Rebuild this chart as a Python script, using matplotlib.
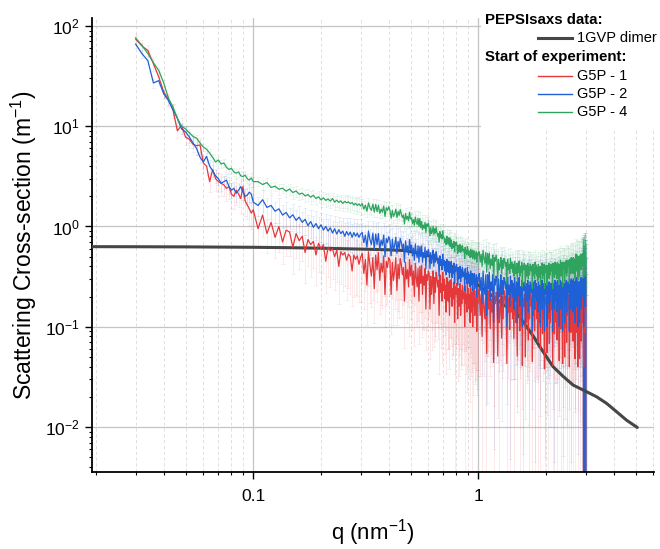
import numpy as np
import matplotlib
matplotlib.use("Agg")
import matplotlib.pyplot as plt
from matplotlib.patches import Rectangle
from matplotlib.ticker import FixedLocator, FixedFormatter, LogLocator, NullFormatter, LogFormatterSciNotation

plt.rcParams.update({
    "font.family": ["Liberation Sans", "DejaVu Sans"],
    "mathtext.fontset": "custom",
    "mathtext.rm": "Liberation Sans",
    "mathtext.it": "Liberation Sans:italic",
    "mathtext.bf": "Liberation Sans:bold",
    "mathtext.default": "regular",
    "axes.unicode_minus": False,
})

# ---------------- data ----------------
# q grid in 1e-3 nm^-1
q_milli = [
    30, 32, 34, 36, 38, 40, 42, 44, 46, 48, 50, 52, 54, 56, 58, 60, 62, 64, 66, 68,
    70, 72, 74, 76, 78, 80, 82, 84, 86, 88, 90, 92, 94, 96, 98, 100,
    105, 110, 115, 120, 125, 130, 135, 140, 145, 150, 155, 160, 165, 170, 175, 180,
    185, 190, 195, 200, 205, 210, 215, 220, 225, 230, 235, 240, 245, 250, 255, 260,
    265, 270, 275, 280, 285, 290, 295, 300,
    305, 310, 315, 320, 325, 330, 335, 340, 345, 350,
    355, 360, 365, 370, 375, 380, 385, 390, 395, 400,
    405, 410, 415, 420, 425, 430, 435, 440, 445, 450,
    455, 460, 465, 470, 475, 480, 485, 490, 495, 500,
    505, 510, 515, 520, 525, 530, 535, 540, 545, 550,
    555, 560, 565, 570, 575, 580, 585, 590, 595, 600,
    605, 610, 615, 620, 625, 630, 635, 640, 645, 650,
    655, 660, 665, 670, 675, 680, 685, 690, 695, 700,
    705, 710, 715, 720, 725, 730, 735, 740, 745, 750,
    755, 760, 765, 770, 775, 780, 785, 790, 795, 800,
    805, 810, 815, 820, 825, 830, 835, 840, 845, 850,
    855, 860, 865, 870, 875, 880, 885, 890, 895, 900,
    905, 910, 915, 920, 925, 930, 935, 940, 945, 950,
    955, 960, 965, 970, 975, 980, 985, 990, 995, 1000,
    1010, 1020, 1030, 1040, 1050, 1060, 1070, 1080, 1090, 1100,
    1110, 1120, 1130, 1140, 1150, 1160, 1170, 1180, 1190, 1200,
    1210, 1220, 1230, 1240, 1250, 1260, 1270, 1280, 1290, 1300,
    1310, 1320, 1330, 1340, 1350, 1360, 1370, 1380, 1390, 1400,
    1410, 1420, 1430, 1440, 1450, 1460, 1470, 1480, 1490, 1500,
    1510, 1520, 1530, 1540, 1550, 1560, 1570, 1580, 1590, 1600,
    1610, 1620, 1630, 1640, 1650, 1660, 1670, 1680, 1690, 1700,
    1710, 1720, 1730, 1740, 1750, 1760, 1770, 1780, 1790, 1800,
    1810, 1820, 1830, 1840, 1850, 1860, 1870, 1880, 1890, 1900,
    1910, 1920, 1930, 1940, 1950, 1960, 1970, 1980, 1990, 2000,
    2010, 2020, 2030, 2040, 2050, 2060, 2070, 2080, 2090, 2100,
    2110, 2120, 2130, 2140, 2150, 2160, 2170, 2180, 2190, 2200,
    2210, 2220, 2230, 2240, 2250, 2260, 2270, 2280, 2290, 2300,
    2310, 2320, 2330, 2340, 2350, 2360, 2370, 2380, 2390, 2400,
    2410, 2420, 2430, 2440, 2450, 2460, 2470, 2480, 2490, 2500,
    2510, 2520, 2530, 2540, 2550, 2560, 2570, 2580, 2590, 2600,
    2610, 2620, 2630, 2640, 2650, 2660, 2670, 2680, 2690, 2700,
    2710, 2720, 2730, 2740, 2750, 2760, 2770, 2780, 2790, 2800,
    2810, 2820, 2830, 2840, 2850, 2860, 2870, 2880, 2890, 2900,
    2910, 2920, 2930, 2940, 2950, 2960, 2970, 2980, 2990, 3000,
]

g5p1 = [
    74, 63, 57, 42, 31, 22, 18.5, 14.5, 9.0, 10.2, 7.8, 7.4, 6.6, 6.4, 6.5, 4.3, 4.0, 2.8, 3.7, 3.0,
    2.8, 2.7, 2.6, 2.4, 2.5, 2.1, 2.0, 2.3, 2.1, 1.9, 2.5, 1.8, 1.65, 1.5, 1.36, 1.47,
    0.95, 1.30, 0.85, 1.10, 0.78, 1.00, 0.70, 0.92, 0.88, 0.62,
    0.85, 0.72, 0.80, 0.55, 0.74, 0.66, 0.71, 0.52, 0.68, 0.60,
    0.66, 0.45, 0.62, 0.57, 0.60, 0.50, 0.58, 0.40, 0.56, 0.52,
    0.55, 0.46, 0.53, 0.50, 0.36, 0.52, 0.47, 0.51, 0.42, 0.49,
    0.54, 0.34, 0.47, 0.26, 0.56, 0.41, 0.32, 0.49, 0.24, 0.52,
    0.37, 0.55, 0.29, 0.43, 0.35, 0.51, 0.21, 0.45, 0.39, 0.49,
    0.46, 0.21, 0.44, 0.29, 0.36, 0.49, 0.23, 0.42, 0.30, 0.48,
    0.42, 0.33, 0.39, 0.18, 0.44, 0.30, 0.37, 0.25, 0.47, 0.32,
    0.41, 0.26, 0.36, 0.20, 0.43, 0.31, 0.25, 0.38, 0.18, 0.40,
    0.27, 0.41, 0.21, 0.32, 0.26, 0.38, 0.15, 0.33, 0.29, 0.36,
    0.34, 0.15, 0.32, 0.21, 0.27, 0.36, 0.17, 0.31, 0.22, 0.35,
    0.31, 0.25, 0.29, 0.13, 0.33, 0.22, 0.27, 0.18, 0.35, 0.23,
    0.30, 0.19, 0.26, 0.14, 0.31, 0.23, 0.18, 0.28, 0.13, 0.29,
    0.20, 0.30, 0.16, 0.24, 0.19, 0.28, 0.11, 0.25, 0.21, 0.27,
    0.25, 0.12, 0.24, 0.16, 0.20, 0.27, 0.13, 0.23, 0.17, 0.26,
    0.24, 0.19, 0.22, 0.10, 0.25, 0.17, 0.21, 0.14, 0.27, 0.18,
    0.24, 0.15, 0.21, 0.11, 0.25, 0.18, 0.14, 0.22, 0.10, 0.23,
    0.16, 0.24, 0.13, 0.19, 0.15, 0.23, 0.09, 0.20, 0.17, 0.22,
    0.24, 0.13, 0.21, 0.08, 0.23, 0.16, 0.12, 0.22, 0.054, 0.23,
    0.15, 0.25, 0.096, 0.19, 0.14, 0.23, 0.044, 0.20, 0.17, 0.22,
    0.21, 0.051, 0.20, 0.11, 0.15, 0.22, 0.077, 0.20, 0.12, 0.23,
    0.21, 0.16, 0.20, 0.043, 0.22, 0.14, 0.19, 0.094, 0.24, 0.14,
    0.23, 0.12, 0.20, 0.077, 0.22, 0.15, 0.11, 0.20, 0.051, 0.21,
    0.14, 0.23, 0.091, 0.18, 0.13, 0.21, 0.041, 0.19, 0.16, 0.21,
    0.21, 0.05, 0.20, 0.11, 0.15, 0.21, 0.074, 0.19, 0.12, 0.22,
    0.20, 0.16, 0.19, 0.045, 0.22, 0.13, 0.17, 0.091, 0.23, 0.15,
    0.22, 0.12, 0.18, 0.070, 0.21, 0.16, 0.11, 0.20, 0.06, 0.21,
    0.15, 0.23, 0.085, 0.18, 0.12, 0.22, 0.038, 0.19, 0.17, 0.20,
    0.20, 0.055, 0.21, 0.12, 0.14, 0.21, 0.068, 0.19, 0.11, 0.22,
    0.21, 0.15, 0.19, 0.041, 0.21, 0.14, 0.18, 0.085, 0.24, 0.13,
    0.22, 0.11, 0.19, 0.074, 0.20, 0.15, 0.12, 0.21, 0.046, 0.20,
    0.13, 0.23, 0.095, 0.17, 0.14, 0.21, 0.043, 0.18, 0.16, 0.22,
    0.21, 0.05, 0.19, 0.10, 0.16, 0.22, 0.070, 0.19, 0.13, 0.21,
    0.20, 0.15, 0.18, 0.04, 0.21, 0.13, 0.18, 0.088, 0.22, 0.14,
    0.22, 0.11, 0.18, 0.072, 0.21, 0.14, 0.10, 0.19, 0.048, 0.20,
    0.14, 0.22, 0.088, 0.18, 0.13, 0.21, 0.04, 0.18, 0.15, 0.20,
    0.20, 0.048, 0.19, 0.10, 0.14, 0.21, 0.072, 0.18, 0.11, 0.22,
    0.20, 0.15, 0.18, 0.04, 0.21, 0.13, 0.18, 0.088, 0.22, 0.14,
]

g5p2 = [
    66, 53, 45, 27, 28.5, 21, 18, 14.5, 12, 9.4, 8.8, 7.8, 6.8, 6.0, 4.9, 4.4, 5.0, 4.0, 3.6, 3.2,
    3.0, 2.7, 2.8, 2.9, 2.5, 2.3, 2.4, 2.15, 2.3, 2.5, 2.2, 2.0, 2.05, 2.2, 2.1, 1.75,
    1.62, 1.85, 1.55, 1.62, 1.42, 1.50, 1.30, 1.38, 1.22, 1.31,
    1.15, 1.24, 1.10, 1.18, 1.02, 1.12, 0.98, 1.07, 0.95, 1.04,
    0.92, 1.00, 0.90, 0.97, 0.86, 0.95, 0.84, 0.93, 0.85, 0.90,
    0.80, 0.89, 0.82, 0.88, 0.78, 0.87, 0.80, 0.86, 0.78, 0.84,
    0.87, 0.69, 0.82, 0.62, 0.90, 0.74, 0.66, 0.86, 0.59, 0.84,
    0.66, 0.85, 0.59, 0.73, 0.65, 0.82, 0.50, 0.76, 0.69, 0.79,
    0.73, 0.51, 0.75, 0.58, 0.65, 0.78, 0.54, 0.71, 0.60, 0.76,
    0.69, 0.60, 0.67, 0.44, 0.72, 0.57, 0.64, 0.52, 0.74, 0.58,
    0.65, 0.51, 0.61, 0.46, 0.67, 0.55, 0.49, 0.64, 0.44, 0.63,
    0.50, 0.64, 0.44, 0.55, 0.49, 0.62, 0.38, 0.57, 0.52, 0.59,
    0.54, 0.38, 0.55, 0.43, 0.48, 0.58, 0.40, 0.53, 0.44, 0.56,
    0.50, 0.43, 0.48, 0.32, 0.51, 0.41, 0.46, 0.37, 0.53, 0.41,
    0.46, 0.36, 0.43, 0.33, 0.47, 0.39, 0.35, 0.45, 0.31, 0.44,
    0.35, 0.45, 0.31, 0.39, 0.34, 0.43, 0.27, 0.40, 0.36, 0.42,
    0.38, 0.26, 0.39, 0.30, 0.33, 0.40, 0.28, 0.37, 0.31, 0.39,
    0.36, 0.32, 0.35, 0.23, 0.38, 0.30, 0.34, 0.27, 0.39, 0.30,
    0.35, 0.27, 0.33, 0.25, 0.36, 0.29, 0.26, 0.34, 0.23, 0.33,
    0.27, 0.34, 0.24, 0.30, 0.26, 0.33, 0.20, 0.31, 0.28, 0.32,
    0.34, 0.23, 0.31, 0.17, 0.36, 0.26, 0.21, 0.33, 0.13, 0.33,
    0.24, 0.35, 0.18, 0.28, 0.23, 0.33, 0.11, 0.30, 0.26, 0.32,
    0.30, 0.12, 0.30, 0.20, 0.23, 0.33, 0.16, 0.29, 0.21, 0.31,
    0.30, 0.24, 0.28, 0.10, 0.31, 0.21, 0.26, 0.16, 0.32, 0.22,
    0.29, 0.20, 0.27, 0.15, 0.31, 0.22, 0.18, 0.28, 0.11, 0.28,
    0.21, 0.31, 0.16, 0.25, 0.20, 0.29, 0.10, 0.27, 0.23, 0.28,
    0.27, 0.11, 0.27, 0.18, 0.21, 0.29, 0.14, 0.26, 0.19, 0.28,
    0.27, 0.22, 0.26, 0.09, 0.28, 0.20, 0.24, 0.15, 0.29, 0.20,
    0.27, 0.18, 0.25, 0.14, 0.28, 0.20, 0.17, 0.26, 0.10, 0.26,
    0.20, 0.29, 0.15, 0.24, 0.19, 0.27, 0.09, 0.25, 0.21, 0.27,
    0.26, 0.10, 0.26, 0.17, 0.20, 0.28, 0.14, 0.25, 0.18, 0.27,
    0.27, 0.21, 0.25, 0.09, 0.27, 0.19, 0.24, 0.15, 0.29, 0.20,
    0.28, 0.18, 0.25, 0.14, 0.29, 0.21, 0.17, 0.26, 0.10, 0.26,
    0.20, 0.29, 0.15, 0.24, 0.20, 0.28, 0.09, 0.26, 0.22, 0.27,
    0.27, 0.11, 0.27, 0.18, 0.21, 0.29, 0.14, 0.26, 0.19, 0.28,
    0.28, 0.22, 0.26, 0.09, 0.29, 0.20, 0.25, 0.15, 0.30, 0.21,
    0.29, 0.19, 0.26, 0.14, 0.30, 0.22, 0.18, 0.28, 0.11, 0.28,
    0.21, 0.31, 0.16, 0.25, 0.20, 0.29, 0.10, 0.27, 0.23, 0.28,
    0.28, 0.11, 0.28, 0.18, 0.22, 0.31, 0.15, 0.27, 0.20, 0.29,
    0.30, 0.24, 0.28, 0.10, 0.31, 0.21, 0.26, 0.16, 0.32, 0.22,
]

g5p4 = [
    76, 64, 53, 43, 36, 27, 19, 15.5, 12, 10, 9.4, 8.6, 7.9, 7.6, 6.8, 6.2, 5.9, 5.4, 4.9, 4.4,
    4.6, 4.2, 4.3, 3.9, 3.7, 3.8, 3.5, 3.4, 3.5, 3.2, 3.15, 3.25, 3.0, 2.9, 3.05, 2.8,
    2.80, 2.62, 2.74, 2.45, 2.52, 2.35, 2.41, 2.25, 2.36, 2.18,
    2.26, 2.10, 2.15, 2.02, 2.08, 1.96, 2.05, 1.90, 1.98, 1.84,
    1.93, 1.82, 1.88, 1.79, 1.90, 1.75, 1.83, 1.74, 1.80, 1.70,
    1.78, 1.72, 1.76, 1.69, 1.73, 1.64, 1.70, 1.62, 1.68, 1.60,
    1.69, 1.49, 1.63, 1.42, 1.72, 1.53, 1.45, 1.67, 1.39, 1.66,
    1.41, 1.63, 1.35, 1.49, 1.39, 1.60, 1.26, 1.54, 1.45, 1.57,
    1.44, 1.21, 1.45, 1.26, 1.33, 1.49, 1.23, 1.41, 1.29, 1.47,
    1.33, 1.23, 1.30, 1.06, 1.35, 1.18, 1.26, 1.14, 1.38, 1.19,
    1.22, 1.07, 1.17, 1.03, 1.24, 1.11, 1.05, 1.21, 1.00, 1.20,
    0.97, 1.12, 0.93, 1.03, 0.96, 1.10, 0.87, 1.06, 1.00, 1.08,
    0.97, 0.81, 0.98, 0.85, 0.89, 1.00, 0.83, 0.95, 0.86, 0.98,
    0.87, 0.80, 0.85, 0.70, 0.89, 0.77, 0.83, 0.75, 0.90, 0.78,
    0.78, 0.69, 0.75, 0.66, 0.80, 0.71, 0.67, 0.77, 0.64, 0.77,
    0.63, 0.73, 0.60, 0.67, 0.62, 0.71, 0.56, 0.69, 0.65, 0.70,
    0.64, 0.54, 0.65, 0.56, 0.59, 0.66, 0.55, 0.63, 0.57, 0.65,
    0.60, 0.56, 0.59, 0.48, 0.62, 0.54, 0.58, 0.52, 0.63, 0.54,
    0.58, 0.51, 0.56, 0.49, 0.59, 0.53, 0.50, 0.58, 0.48, 0.57,
    0.49, 0.57, 0.47, 0.53, 0.49, 0.56, 0.44, 0.54, 0.51, 0.55,
    0.56, 0.44, 0.53, 0.40, 0.58, 0.48, 0.43, 0.55, 0.35, 0.54,
    0.42, 0.54, 0.38, 0.47, 0.41, 0.52, 0.30, 0.49, 0.45, 0.52,
    0.46, 0.30, 0.47, 0.37, 0.41, 0.49, 0.34, 0.46, 0.38, 0.48,
    0.46, 0.40, 0.44, 0.27, 0.47, 0.37, 0.42, 0.34, 0.48, 0.38,
    0.44, 0.35, 0.42, 0.32, 0.45, 0.38, 0.34, 0.43, 0.28, 0.43,
    0.35, 0.45, 0.32, 0.40, 0.35, 0.44, 0.25, 0.41, 0.37, 0.43,
    0.41, 0.26, 0.41, 0.32, 0.36, 0.43, 0.30, 0.40, 0.33, 0.42,
    0.41, 0.36, 0.40, 0.24, 0.42, 0.33, 0.38, 0.30, 0.44, 0.34,
    0.41, 0.32, 0.39, 0.29, 0.42, 0.35, 0.31, 0.40, 0.26, 0.39,
    0.34, 0.43, 0.30, 0.38, 0.33, 0.42, 0.24, 0.39, 0.35, 0.41,
    0.40, 0.26, 0.41, 0.31, 0.35, 0.43, 0.30, 0.39, 0.33, 0.41,
    0.42, 0.36, 0.40, 0.24, 0.43, 0.34, 0.39, 0.31, 0.44, 0.35,
    0.43, 0.33, 0.40, 0.30, 0.44, 0.36, 0.32, 0.42, 0.27, 0.41,
    0.36, 0.46, 0.32, 0.40, 0.35, 0.44, 0.25, 0.42, 0.38, 0.44,
    0.43, 0.28, 0.44, 0.34, 0.38, 0.46, 0.32, 0.42, 0.35, 0.45,
    0.46, 0.40, 0.44, 0.27, 0.47, 0.37, 0.43, 0.34, 0.49, 0.38,
    0.48, 0.38, 0.46, 0.34, 0.49, 0.41, 0.37, 0.47, 0.30, 0.46,
    0.41, 0.53, 0.36, 0.46, 0.40, 0.51, 0.29, 0.48, 0.43, 0.50,
    0.50, 0.32, 0.51, 0.39, 0.44, 0.53, 0.37, 0.49, 0.40, 0.52,
    0.54, 0.47, 0.51, 0.31, 0.55, 0.43, 0.49, 0.39, 0.57, 0.44,
]

# relative uncertainties in percent
g5p1_err_pct = [
    12, 14, 12, 15, 13, 15, 14, 16, 15, 18, 16, 18, 17, 20, 18, 20, 19, 22, 20, 24,
    22, 25, 23, 26, 24, 28, 25, 28, 26, 30, 27, 30, 28, 32, 30, 32,
    35, 40, 36, 42, 38, 44, 40, 45, 42, 46, 43, 48, 44, 50, 45, 52, 46, 50, 48, 55,
    48, 52, 50, 56, 50, 54, 52, 58, 52, 56, 54, 60, 54, 58, 55, 62, 56, 60, 58, 64,
    50, 56, 52, 60, 54, 58, 51, 62, 55, 57,
    52, 58, 54, 62, 56, 60, 53, 64, 57, 59,
    54, 60, 56, 64, 58, 62, 55, 66, 59, 61,
    56, 62, 58, 66, 60, 64, 57, 68, 61, 63,
    58, 64, 60, 68, 62, 66, 59, 70, 63, 65,
    60, 66, 62, 70, 64, 68, 61, 72, 65, 67,
    62, 68, 64, 72, 66, 70, 63, 74, 67, 69,
    64, 70, 66, 74, 68, 72, 65, 76, 69, 71,
    66, 72, 68, 76, 70, 74, 67, 78, 71, 73,
    68, 74, 70, 78, 72, 76, 69, 105, 73, 75,
    70, 76, 72, 80, 74, 78, 71, 82, 75, 77,
    72, 78, 74, 110, 76, 80, 73, 84, 77, 79,
    74, 80, 76, 84, 78, 82, 75, 115, 79, 81,
    76, 82, 78, 86, 80, 84, 77, 88, 81, 83,
    60, 75, 65, 120, 70, 80, 62, 130, 68, 78,
    62, 74, 66, 72, 71, 79, 63, 125, 67, 80,
    61, 76, 64, 118, 69, 81, 60, 74, 70, 77,
    63, 73, 67, 124, 72, 78, 64, 128, 66, 79,
    60, 75, 65, 120, 70, 80, 62, 76, 68, 78,
    62, 74, 66, 122, 71, 79, 63, 125, 67, 80,
    61, 76, 64, 75, 69, 81, 60, 132, 70, 77,
    63, 73, 67, 124, 72, 78, 64, 128, 66, 79,
    60, 75, 65, 120, 70, 80, 62, 130, 68, 78,
    62, 74, 66, 72, 71, 79, 63, 125, 67, 80,
    61, 76, 64, 118, 69, 81, 60, 74, 70, 77,
    63, 73, 67, 124, 72, 78, 64, 128, 66, 79,
    60, 75, 65, 120, 70, 80, 62, 76, 68, 78,
    62, 74, 66, 122, 71, 79, 63, 125, 67, 80,
    61, 76, 64, 75, 69, 81, 60, 132, 70, 77,
    63, 73, 67, 124, 72, 78, 64, 128, 66, 79,
    60, 75, 65, 120, 70, 80, 62, 130, 68, 78,
    62, 74, 66, 72, 71, 79, 63, 125, 67, 80,
    61, 76, 64, 118, 69, 81, 60, 132, 70, 77,
    110, 120, 115, 130, 118, 125, 112, 135, 128, 140,
]

g5p2_err_pct = [
    8, 9, 8, 10, 9, 10, 9, 11, 10, 12, 11, 12, 11, 13, 12, 14, 13, 14, 13, 15,
    14, 16, 15, 16, 15, 17, 16, 18, 17, 18, 17, 19, 18, 20, 19, 20,
    22, 25, 23, 26, 24, 27, 25, 28, 26, 28, 27, 29, 28, 30, 28, 31, 29, 32, 30, 32,
    30, 33, 31, 34, 32, 34, 33, 35, 33, 36, 34, 36, 35, 37, 35, 38, 36, 38, 37, 40,
    25, 28, 26, 30, 27, 29, 26, 31, 27, 29,
    27, 30, 28, 32, 29, 31, 28, 33, 29, 31,
    29, 32, 30, 34, 31, 33, 30, 35, 31, 33,
    31, 34, 32, 36, 33, 35, 32, 37, 33, 35,
    33, 36, 34, 38, 35, 37, 34, 39, 35, 37,
    35, 38, 36, 40, 37, 39, 36, 41, 37, 39,
    37, 40, 38, 42, 39, 41, 38, 43, 39, 41,
    39, 42, 40, 44, 41, 43, 40, 45, 41, 43,
    41, 44, 42, 46, 43, 45, 42, 47, 43, 45,
    43, 46, 44, 48, 45, 47, 44, 49, 45, 47,
    45, 48, 46, 50, 47, 49, 46, 51, 47, 49,
    47, 50, 48, 52, 49, 51, 48, 53, 49, 51,
    49, 52, 50, 54, 51, 53, 50, 55, 51, 53,
    51, 54, 52, 56, 53, 55, 52, 57, 53, 55,
    55, 62, 58, 80, 60, 64, 57, 95, 61, 66,
    56, 61, 59, 84, 59, 65, 56, 98, 62, 64,
    55, 63, 57, 82, 61, 62, 58, 96, 60, 67,
    57, 60, 59, 83, 58, 66, 57, 97, 63, 65,
    55, 62, 58, 80, 60, 64, 57, 95, 61, 66,
    56, 61, 59, 84, 59, 65, 56, 98, 62, 64,
    55, 63, 57, 82, 61, 62, 58, 96, 60, 67,
    57, 60, 59, 83, 58, 66, 57, 97, 63, 65,
    55, 62, 58, 80, 60, 64, 57, 95, 61, 66,
    56, 61, 59, 84, 59, 65, 56, 98, 62, 64,
    55, 63, 57, 82, 61, 62, 58, 96, 60, 67,
    57, 60, 59, 83, 58, 66, 57, 97, 63, 65,
    55, 62, 58, 80, 60, 64, 57, 95, 61, 66,
    56, 61, 59, 84, 59, 65, 56, 98, 62, 64,
    55, 63, 57, 82, 61, 62, 58, 96, 60, 67,
    57, 60, 59, 83, 58, 66, 57, 97, 63, 65,
    55, 62, 58, 80, 60, 64, 57, 95, 61, 66,
    56, 61, 59, 84, 59, 65, 56, 98, 62, 64,
    55, 63, 57, 82, 61, 62, 58, 96, 60, 67,
    105, 115, 110, 120, 108, 125, 112, 118, 130, 122,
]

g5p4_err_pct = [
    5, 6, 5, 6, 6, 7, 6, 7, 6, 7, 7, 8, 7, 8, 7, 8, 8, 9, 8, 9,
    8, 9, 9, 10, 9, 10, 9, 10, 10, 11, 10, 11, 10, 11, 11, 12,
    10, 11, 10, 12, 11, 12, 11, 13, 12, 13, 12, 13, 12, 14, 13, 14, 13, 14, 13, 15,
    14, 15, 14, 15, 14, 16, 15, 16, 15, 16, 15, 17, 16, 17, 16, 17, 16, 18, 17, 18,
    10, 11, 10, 12, 11, 12, 10, 13, 11, 12,
    11, 12, 11, 13, 12, 13, 11, 14, 12, 13,
    12, 13, 12, 14, 13, 14, 12, 15, 13, 14,
    13, 14, 13, 15, 14, 15, 13, 16, 14, 15,
    14, 15, 14, 16, 15, 16, 14, 17, 15, 16,
    15, 16, 15, 17, 16, 17, 15, 18, 16, 17,
    16, 17, 16, 18, 17, 18, 16, 19, 17, 18,
    17, 18, 17, 19, 18, 19, 17, 20, 18, 19,
    18, 19, 18, 20, 19, 20, 18, 21, 19, 20,
    19, 20, 19, 21, 20, 21, 19, 22, 20, 21,
    20, 21, 20, 22, 21, 22, 20, 23, 21, 22,
    21, 22, 21, 23, 22, 23, 21, 24, 22, 23,
    22, 23, 22, 24, 23, 24, 22, 25, 23, 24,
    23, 24, 23, 25, 24, 25, 23, 26, 24, 25,
    25, 28, 26, 32, 27, 29, 26, 35, 28, 30,
    26, 27, 27, 33, 26, 30, 25, 36, 27, 31,
    25, 29, 26, 31, 28, 28, 27, 34, 29, 29,
    27, 28, 25, 32, 27, 30, 26, 35, 28, 30,
    26, 29, 27, 33, 28, 31, 27, 36, 29, 31,
    27, 30, 28, 34, 29, 32, 28, 37, 30, 32,
    28, 31, 29, 35, 30, 33, 29, 38, 31, 33,
    29, 32, 30, 36, 31, 34, 30, 39, 32, 34,
    30, 33, 31, 37, 32, 35, 31, 40, 33, 35,
    31, 34, 32, 38, 33, 36, 32, 41, 34, 36,
    32, 35, 33, 39, 34, 37, 33, 42, 35, 37,
    33, 36, 34, 40, 35, 38, 34, 43, 36, 38,
    34, 37, 35, 41, 36, 39, 35, 44, 37, 39,
    35, 38, 36, 42, 37, 40, 36, 45, 38, 40,
    36, 39, 37, 43, 38, 41, 37, 46, 39, 41,
    37, 40, 38, 44, 39, 42, 38, 47, 40, 42,
    38, 41, 39, 45, 40, 43, 39, 48, 41, 43,
    39, 42, 40, 46, 41, 44, 40, 49, 42, 44,
    40, 43, 41, 47, 42, 45, 41, 50, 43, 45,
    45, 50, 48, 55, 50, 52, 49, 58, 51, 53,
]

# PEPSIsaxs model curve of the 1GVP dimer
dimer_q = [0.015, 0.03, 0.05, 0.08, 0.1, 0.15, 0.2, 0.3, 0.4, 0.47, 0.55, 0.62, 0.7,
           0.8, 0.9, 1.0, 1.1, 1.2, 1.3, 1.4, 1.48, 1.56, 1.64, 1.76, 1.88, 2.0,
           2.15, 2.39, 2.64, 3.03, 3.36, 3.72, 4.12, 4.56, 5.09]
dimer_I = [0.63, 0.628, 0.626, 0.622, 0.62, 0.614, 0.607, 0.595, 0.585, 0.575, 0.54,
           0.50, 0.445, 0.375, 0.31, 0.26, 0.22, 0.19, 0.165, 0.148, 0.136, 0.118,
           0.100, 0.080, 0.063, 0.051, 0.040, 0.0318, 0.0262, 0.0225, 0.0200,
           0.0172, 0.0142, 0.0117, 0.0099]

series_labels = ["G5P - 1", "G5P - 2", "G5P - 4"]
dimer_label = "1GVP dimer"
legend_titles = ["PEPSIsaxs data:", "Start of experiment:"]
x_tick_values = [0.1, 1]
x_tick_labels = ["0.1", "1"]

n = len(q_milli)
names = ["g5p1", "g5p2", "g5p4", "e1", "e2", "e4"]
for nm, arr in zip(names, (g5p1, g5p2, g5p4, g5p1_err_pct, g5p2_err_pct, g5p4_err_pct)):
    if len(arr) != n:
        raise SystemExit("length mismatch %s: %d vs %d" % (nm, len(arr), n))

q = np.array(q_milli, dtype=float) / 1000.0

colors = ["#e5383b", "#1f60d6", "#2ea45e"]
dimer_color = "#464646"

# ---------------- figure ----------------
W, H = 660, 549
fig = plt.figure(figsize=(W / 100, H / 100), dpi=100)
L, R, T, B = 92, 654, 18, 472
ax = fig.add_axes([L / W, 1 - B / H, (R - L) / W, (B - T) / H])
ax.set_xscale("log")
ax.set_yscale("log", nonpositive="clip")

ys = [np.array(g5p1), np.array(g5p2), np.array(g5p4)]
errs = [np.array(g5p1_err_pct), np.array(g5p2_err_pct), np.array(g5p4_err_pct)]

tail = n - 10  # the last points (q > 2.9) carry very large, overlapping error bars
for y, e, c in zip(ys, errs, colors):
    yerr = y * e / 100.0
    ax.errorbar(q[:tail], y[:tail], yerr=yerr[:tail], fmt="none", ecolor=c, elinewidth=0.6,
                capsize=1.2, capthick=0.5, alpha=0.12, zorder=2)
    ax.errorbar(q[tail:], y[tail:], yerr=yerr[tail:], fmt="none", ecolor=c, elinewidth=0.9,
                capsize=1.2, capthick=0.5, alpha=0.45, zorder=2)

ax.plot(dimer_q, dimer_I, color=dimer_color, lw=2.2, zorder=3, solid_capstyle="round")

for y, c in zip(ys, colors):
    ax.plot(q, y, color=c, lw=0.9, zorder=4)

ax.set_xlim(0.0192, 6.04)
ax.set_ylim(0.00356, 120)

ax.xaxis.set_major_locator(FixedLocator(x_tick_values))
ax.xaxis.set_major_formatter(FixedFormatter(x_tick_labels))
ax.xaxis.set_minor_locator(LogLocator(base=10, subs=np.arange(2, 10), numticks=30))
ax.xaxis.set_minor_formatter(NullFormatter())
ax.yaxis.set_major_locator(LogLocator(base=10, numticks=12))
ax.yaxis.set_major_formatter(LogFormatterSciNotation())
ax.yaxis.set_minor_locator(LogLocator(base=10, subs=np.arange(2, 10), numticks=30))
ax.yaxis.set_minor_formatter(NullFormatter())

ax.set_axisbelow(True)
ax.grid(which="major", axis="both", color="#c4c4c4", lw=0.9, ls="-")
ax.grid(which="minor", axis="x", color="#dadada", lw=0.6, ls=(0, (4, 3)))

for s in ("top", "right"):
    ax.spines[s].set_visible(False)
for s in ("left", "bottom"):
    ax.spines[s].set_linewidth(1.3)
    ax.spines[s].set_color("black")

ax.tick_params(which="major", direction="out", length=5, width=1.0, labelsize=12.5, color="black")
ax.tick_params(which="minor", direction="out", length=2.5, width=0.8, color="black")
ax.tick_params(axis="x", which="major", pad=7)
ax.tick_params(axis="y", which="major", pad=4)

ax.set_xlabel("q (nm$^{-1}$)", fontsize=16)
ax.set_ylabel("Scattering Cross-section (m$^{-1}$)", fontsize=16.5)
ax.xaxis.set_label_coords(0.5, -0.099)
ax.yaxis.set_label_coords(-0.094, 0.5)

# ---------------- legend (drawn in pixel coordinates) ----------------
lax = fig.add_axes([0, 0, 1, 1])
lax.set_xlim(0, W)
lax.set_ylim(H, 0)
lax.axis("off")
lax.set_autoscale_on(False)
lax.add_patch(Rectangle((481, 0), W - 481, 128, facecolor="white", edgecolor="none"))
lax.text(485, 20, legend_titles[0], fontsize=10.8, fontweight="bold", ha="left", va="center")
lax.plot([538, 572], [38, 38], color=dimer_color, lw=2.2)
lax.text(577, 38, dimer_label, fontsize=10.5, ha="left", va="center")
lax.text(485, 57, legend_titles[1], fontsize=10.8, fontweight="bold", ha="left", va="center")
for yy, lab, c in zip([76, 94, 112], series_labels, colors):
    lax.plot([538, 572], [yy, yy], color=c, lw=1.0)
    lax.text(577, yy, lab, fontsize=10.5, ha="left", va="center")

fig.savefig("out.png", dpi=100)
